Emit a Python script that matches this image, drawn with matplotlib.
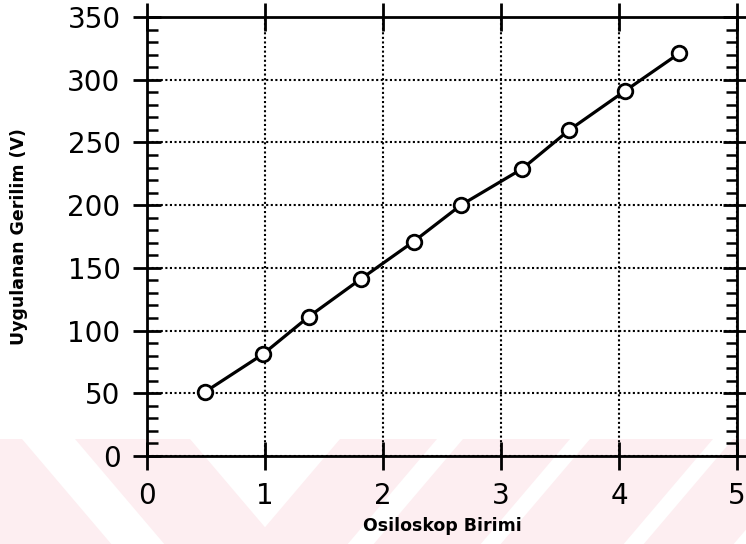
import matplotlib
matplotlib.use("Agg")
import matplotlib.pyplot as plt
from matplotlib.patches import Polygon
from matplotlib.ticker import MultipleLocator

# Measured applied voltage against oscilloscope divisions
osc_units = [0.49, 0.98, 1.37, 1.81, 2.26, 2.66, 3.18, 3.58, 4.05, 4.51]
voltage = [51, 81, 111, 141, 171, 200, 229, 260, 291, 321]

x_ticks = [0, 1, 2, 3, 4, 5]
y_ticks = [0, 50, 100, 150, 200, 250, 300, 350]

W, H = 746, 544
fig = plt.figure(figsize=(W / 100, H / 100), dpi=100)

# light pink diagonal band decoration along the bottom edge
bg = fig.add_axes([0, 0, 1, 1], zorder=-5)
bg.set_xlim(0, W)
bg.set_ylim(H, 0)
bg.axis("off")
pink = "#fdeef1"
top, bot = 439, H
depth = bot - top


def band(x_left, width, slope):
    return [(x_left, top), (x_left + width, top),
            (x_left + width + slope * depth, bot), (x_left + slope * depth, bot)]


for xl, w, s in [(-120, 142, 0.85), (75, 115, 0.85),
                 (340, 97, -0.85), (463, 107, -0.85),
                 (590, 123, -0.85), (733, 90, -0.85)]:
    bg.add_patch(Polygon(band(xl, w, s), closed=True, facecolor=pink,
                         edgecolor="none"))

ax = fig.add_axes([147 / W, 1 - 456 / H, 590 / W, 439 / H])
ax.set_facecolor("none")

ax.plot(osc_units, voltage, color="black", lw=2.3, zorder=3,
        solid_capstyle="round")
ax.plot(osc_units, voltage, linestyle="none", marker="o", markersize=10.5,
        markerfacecolor="white", markeredgecolor="black",
        markeredgewidth=2.0, zorder=4)

ax.set_xlim(0, 5)
ax.set_ylim(0, 350)
ax.set_xticks(x_ticks)
ax.set_yticks(y_ticks)
ax.yaxis.set_minor_locator(MultipleLocator(10))

for sp in ax.spines.values():
    sp.set_linewidth(2.0)
    sp.set_color("black")

ax.grid(True, which="major", color="black", linestyle=(0, (1, 1.2)),
        linewidth=1.5)

ax.tick_params(axis="both", which="major", direction="inout", length=20,
               width=2.0, labelsize=20, colors="black")
ax.tick_params(axis="x", which="major", top=True, pad=9)
ax.tick_params(axis="y", which="major", right=True, pad=9)
ax.tick_params(axis="y", which="minor", direction="in", length=8,
               width=1.8, left=True, right=True)
ax.tick_params(axis="x", which="minor", bottom=False, top=False)

ax.set_xlabel("Osiloskop Birimi", fontsize=12.5, fontweight="bold", labelpad=5)
ax.set_ylabel("Uygulanan Gerilim (V)", fontsize=12.5, fontweight="bold",
              labelpad=28)

fig.savefig("out.png", dpi=100)
